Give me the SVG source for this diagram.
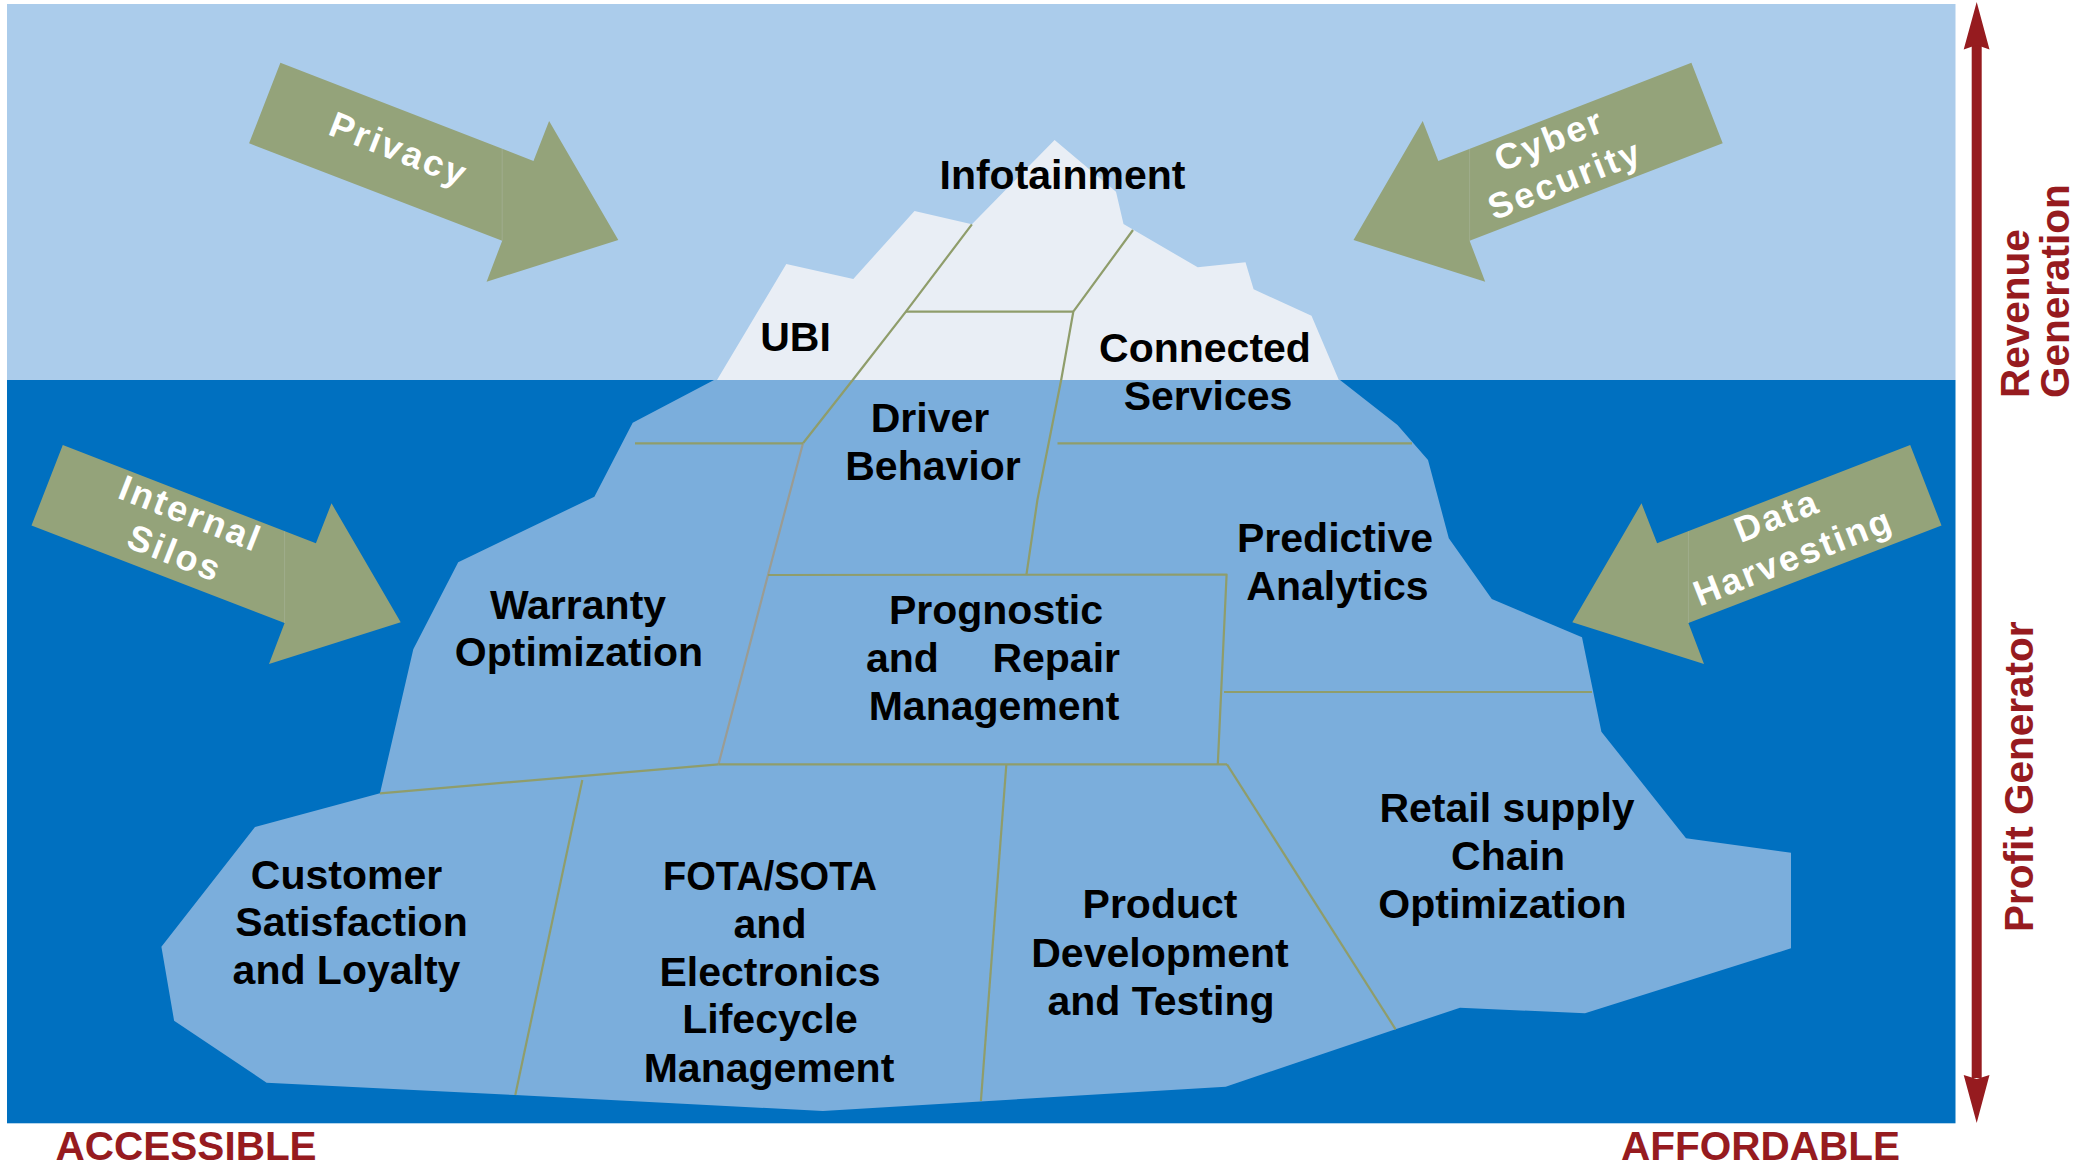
<svg xmlns="http://www.w3.org/2000/svg" xmlns:xlink="http://www.w3.org/1999/xlink" width="2074" height="1165" viewBox="0 0 2074 1165">
  <style>
    .label { font-family: "Liberation Sans", Arial, sans-serif; font-weight: bold; font-size: 41px; fill: #000; text-anchor: middle; }
    .force { font-family: "Liberation Sans", Arial, sans-serif; font-weight: bold; font-size: 36px; fill: #fff; text-anchor: middle; letter-spacing: 2.5px; }
    .axis { font-family: "Liberation Sans", Arial, sans-serif; font-weight: bold; font-size: 40.5px; fill: #961B1F; }
    .arrow-body { fill: #94A37A; }
    .seam { stroke: #A8B49A; stroke-width: 1; opacity: 0.6; }
    .divider { fill: none; stroke: #8F9D6B; stroke-width: 2.2; stroke-linejoin: round; }
    .divider-grey { fill: none; stroke: #9A9C94; stroke-width: 2.2; }
  </style>
  <defs>
    <!-- block arrow pointing down-right; other three are translated / mirrored copies -->
    <g id="pressure-arrow">
      <path class="arrow-body" d="M280.4,62.7 L533.5,161 L549.1,121 L618.3,240 L486.6,281.7 L502.2,240.7 L249.1,143.3 Z"/>
      <line class="seam" x1="502.2" y1="149" x2="502.2" y2="240.7"/>
    </g>
  </defs>

  <rect width="2074" height="1165" fill="#fff"/>

  <!-- sky and sea -->
  <g id="background">
    <rect x="7" y="4" width="1948.5" height="376" fill="#ABCCEB"/>
    <rect x="7" y="380" width="1948.5" height="743.3" fill="#0070C0"/>
  </g>

  <!-- iceberg body -->
  <g id="iceberg">
    <polygon fill="#7BAEDC" points="714,380 632.7,422.7 594.4,496.7 458.2,562.3 413.3,649.3 380,793.3 255,827 161.4,946.7 174.1,1020.7 266.6,1082.7 515.3,1095 822.8,1111 1225.7,1086.7 1395.6,1029.3 1460,1007.7 1585,1013.3 1791,948.3 1791,852.7 1686,838.3 1601.4,731.7 1582,637.3 1491.8,599 1448.8,538.3 1428,460 1397.5,425 1340,380"/>
    <polygon fill="#E9EEF5" points="717,380 786.3,264 853.3,279 914.5,211 971.9,224.3 1054.6,140 1116,191.7 1123.5,224 1197.7,267.3 1245.5,262.3 1253.6,289.3 1311.5,315.7 1338.8,380"/>
  </g>

  <!-- segment boundaries -->
  <g id="connectors">
    <polyline class="divider" points="971.9,224.3 905.9,311.7 853.3,379.3 803,443.3"/>
    <polyline class="divider-grey" points="803,443.3 768,575 718.5,764.3"/>
    <polyline class="divider" points="1133,230 1073.3,311.7 1061.3,379.3 1037.4,500 1026.4,575"/>
    <line class="divider" x1="905.9" y1="311.7" x2="1073.3" y2="311.7"/>
    <line class="divider" x1="635" y1="443.3" x2="803" y2="443.3"/>
    <line class="divider" x1="1057.5" y1="443.3" x2="1412" y2="443.3"/>
    <polyline class="divider" points="768,575 1226.6,574.5 1217.8,764.3"/>
    <line class="divider" x1="718.5" y1="764.3" x2="1227" y2="764.3"/>
    <line class="divider" x1="1224" y1="692" x2="1592" y2="692"/>
    <line class="divider" x1="380" y1="793.3" x2="718.5" y2="764.3"/>
    <line class="divider" x1="582.3" y1="780" x2="515.3" y2="1095"/>
    <line class="divider" x1="1006.3" y1="765" x2="980.9" y2="1101"/>
    <line class="divider" x1="1227" y1="764.3" x2="1395.6" y2="1029.3"/>
  </g>

  <!-- iceberg segments -->
  <g id="infotainment"><text class="label" x="1062.5" y="189">Infotainment</text></g>
  <g id="ubi"><text class="label" x="795.5" y="350.5">UBI</text></g>
  <g id="connected-services">
    <text class="label" x="1205" y="362">Connected</text>
    <text class="label" x="1208" y="410">Services</text>
  </g>
  <g id="driver-behavior">
    <text class="label" x="930" y="432">Driver</text>
    <text class="label" x="933" y="480">Behavior</text>
  </g>
  <g id="warranty-optimization">
    <text class="label" x="578" y="618.5">Warranty</text>
    <text class="label" x="579" y="665.5">Optimization</text>
  </g>
  <g id="predictive-analytics">
    <text class="label" x="1335" y="552">Predictive</text>
    <text class="label" x="1337.5" y="600">Analytics</text>
  </g>
  <g id="prognostic-repair">
    <text class="label" x="996" y="624.3">Prognostic</text>
    <text class="label" x="866" y="672" style="text-anchor:start">and</text>
    <text class="label" x="1120" y="672" style="text-anchor:end">Repair</text>
    <text class="label" x="994" y="719.5">Management</text>
  </g>
  <g id="customer-satisfaction">
    <text class="label" x="346.5" y="888.5">Customer</text>
    <text class="label" x="351.5" y="936">Satisfaction</text>
    <text class="label" x="346.5" y="983.5">and Loyalty</text>
  </g>
  <g id="fota-sota">
    <text class="label" x="770" y="890" textLength="214" lengthAdjust="spacingAndGlyphs">FOTA/SOTA</text>
    <text class="label" x="770" y="937.7">and</text>
    <text class="label" x="770" y="986">Electronics</text>
    <text class="label" x="770" y="1033">Lifecycle</text>
    <text class="label" x="769" y="1081.5">Management</text>
  </g>
  <g id="product-development">
    <text class="label" x="1160" y="918.3">Product</text>
    <text class="label" x="1160" y="966.7">Development</text>
    <text class="label" x="1161" y="1015">and Testing</text>
  </g>
  <g id="retail-supply-chain">
    <text class="label" x="1507" y="821.7">Retail supply</text>
    <text class="label" x="1508" y="870">Chain</text>
    <text class="label" x="1502.5" y="918.3">Optimization</text>
  </g>

  <!-- external pressures -->
  <g id="privacy">
    <use xlink:href="#pressure-arrow"/>
    <g transform="translate(399,149) rotate(21.5)"><text class="force" x="0" y="12.5">Privacy</text></g>
  </g>
  <g id="internal-silos">
    <use xlink:href="#pressure-arrow" transform="translate(-217.6,382.3)"/>
    <g transform="translate(183,533) rotate(21.5)">
      <text class="force" x="0" y="-8.5">Internal</text>
      <text class="force" x="0" y="34">Silos</text>
    </g>
  </g>
  <g id="cyber-security">
    <use xlink:href="#pressure-arrow" transform="translate(1971.8,0) scale(-1,1)"/>
    <g transform="translate(1557,159.2) rotate(-21.5)">
      <text class="force" x="0" y="-8.5">Cyber</text>
      <text class="force" x="0" y="34">Security</text>
    </g>
  </g>
  <g id="data-harvesting">
    <use xlink:href="#pressure-arrow" transform="translate(2190.6,382.3) scale(-1,1)"/>
    <g transform="translate(1785,536) rotate(-21.5)">
      <text class="force" x="0" y="-9.5">Data</text>
      <text class="force" x="0" y="34.5">Harvesting</text>
    </g>
  </g>

  <!-- value axis on the right -->
  <g id="value-axis">
    <rect x="1971.7" y="44" width="10" height="1034" fill="#961B1F"/>
    <polygon fill="#961B1F" points="1976.7,2 1989.5,49.5 1976.7,45 1963.7,49.5"/>
    <polygon fill="#961B1F" points="1976.7,1123 1989.5,1075 1976.7,1079 1963.7,1075"/>
  </g>
  <g id="revenue-generation">
    <text class="axis" transform="translate(2029,398) rotate(-90)">Revenue</text>
    <text class="axis" transform="translate(2069,398) rotate(-90)">Generation</text>
  </g>
  <g id="profit-generator">
    <text class="axis" transform="translate(2033,932) rotate(-90)">Profit Generator</text>
  </g>

  <!-- horizontal scale labels -->
  <g id="accessible"><text class="axis" x="55.6" y="1160">ACCESSIBLE</text></g>
  <g id="affordable"><text class="axis" x="1621" y="1160">AFFORDABLE</text></g>
</svg>
